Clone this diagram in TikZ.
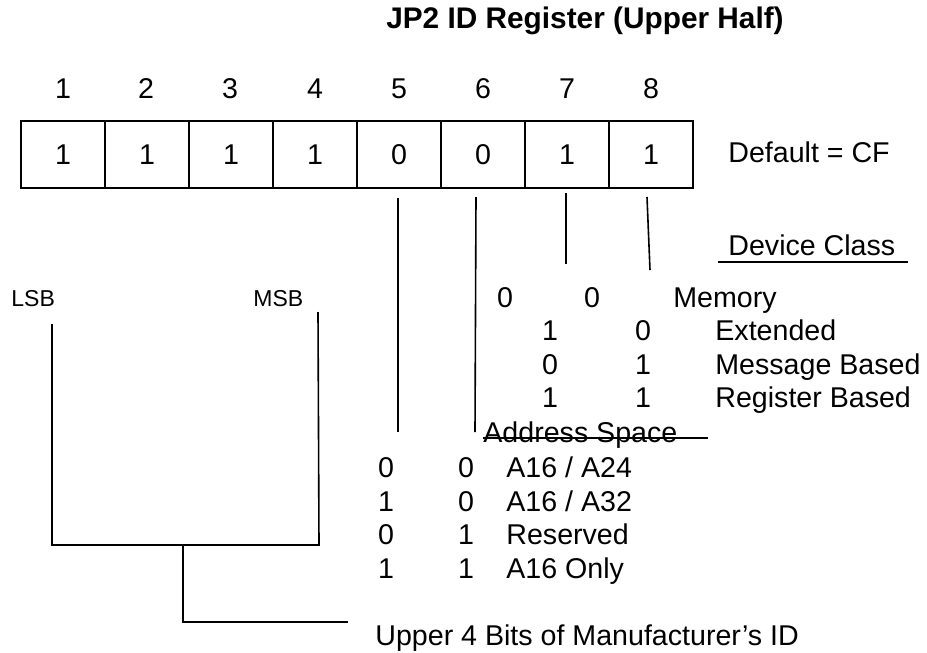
\documentclass[tikz,border=0pt]{standalone}
\usepackage{fontspec}
\setmainfont{Liberation Sans}
\usetikzlibrary{positioning}
\tikzset{
  txt/.style={font=\fontsize{14.3}{17}\selectfont,inner sep=0pt},
  smalltxt/.style={font=\fontsize{11.5}{14}\selectfont,inner sep=0pt},
  cell/.style={txt,draw,line width=1pt,minimum width=42pt,minimum height=33.5pt},
  wire/.style={line width=0.8pt}
}
\begin{document}
\begin{tikzpicture}[x=0.5pt,y=-0.5pt]
\useasboundingbox (0,0) rectangle (927,653);
% title
\node[txt,font=\fontsize{14.9}{18}\selectfont\bfseries,anchor=base] (title) at (585,28) {JP2 ID Register (Upper Half)};
% bit numbers
\node[txt,anchor=base] (n1) at (63,98) {1};
\node[txt,anchor=base] (n2) at (146,98) {2};
\node[txt,anchor=base] (n3) at (230,98) {3};
\node[txt,anchor=base] (n4) at (315,98) {4};
\node[txt,anchor=base] (n5) at (399,98) {5};
\node[txt,anchor=base] (n6) at (483,98) {6};
\node[txt,anchor=base] (n7) at (567,98) {7};
\node[txt,anchor=base] (n8) at (651,98) {8};
% register cells
\node[cell] (c1) at (63,154.5) {1};
\node[cell] (c2) at (147,154.5) {1};
\node[cell] (c3) at (231,154.5) {1};
\node[cell] (c4) at (315,154.5) {1};
\node[cell] (c5) at (399,154.5) {0};
\node[cell] (c6) at (483,154.5) {0};
\node[cell] (c7) at (567,154.5) {1};
\node[cell] (c8) at (651,154.5) {1};
\node[txt,anchor=base west] (dflt) at (728,162) {Default = CF};
% device class
\node[txt,anchor=base west] (dev) at (728,255) {Device Class};
\coordinate (devl) at (718,262);
\coordinate (devr) at (908,262);
\draw[wire] (devl) -- (devr);
\node[txt,anchor=base] (d10) at (505,307) {0};
\node[txt,anchor=base] (d20) at (592,307) {0};
\node[txt,anchor=base west] (m0) at (673,307) {Memory};
\node[txt,anchor=base] (d11) at (550,340) {1};
\node[txt,anchor=base] (d21) at (643,340) {0};
\node[txt,anchor=base west] (m1) at (715,340) {Extended};
\node[txt,anchor=base] (d12) at (550,374) {0};
\node[txt,anchor=base] (d22) at (643,374) {1};
\node[txt,anchor=base west] (m2) at (715,374) {Message Based};
\node[txt,anchor=base] (d13) at (550,407) {1};
\node[txt,anchor=base] (d23) at (643,407) {1};
\node[txt,anchor=base west] (m3) at (715,407) {Register Based};
% address space
\node[txt,anchor=base west] (adr) at (483,442) {Address Space};
\coordinate (adrl) at (483,438);
\coordinate (adrr) at (708,438);
\draw[wire] (adrl) -- (adrr);
\node[txt,anchor=base] (a10) at (386,477) {0};
\node[txt,anchor=base] (a20) at (466,477) {0};
\node[txt,anchor=base west] (s0) at (506,477) {A16 / A24};
\node[txt,anchor=base] (a11) at (386,511) {1};
\node[txt,anchor=base] (a21) at (466,511) {0};
\node[txt,anchor=base west] (s1) at (506,511) {A16 / A32};
\node[txt,anchor=base] (a12) at (386,544) {0};
\node[txt,anchor=base] (a22) at (466,544) {1};
\node[txt,anchor=base west] (s2) at (506,544) {Reserved};
\node[txt,anchor=base] (a13) at (386,578) {1};
\node[txt,anchor=base] (a23) at (466,578) {1};
\node[txt,anchor=base west] (s3) at (506,578) {A16 Only};
% bit lines
\coordinate (b5t) at (398,198);
\coordinate (b5b) at (398,432);
\coordinate (b6t) at (476,197);
\coordinate (b6b) at (475,432);
\coordinate (b7t) at (566,193);
\coordinate (b7b) at (566,264);
\coordinate (b8t) at (647,197);
\coordinate (b8b) at (650,270);
\draw[wire] (b5t) -- (b5b);
\draw[wire] (b6t) -- (b6b);
\draw[wire] (b7t) -- (b7b);
\draw[wire] (b8t) -- (b8b);
% manufacturer id bracket
\node[smalltxt,anchor=base west] (lsb) at (11,306) {LSB};
\node[smalltxt,anchor=base west] (msb) at (253,306) {MSB};
\coordinate (lsbt) at (52,324);
\coordinate (lsbb) at (52,545);
\coordinate (msbt) at (318,312);
\coordinate (msbb) at (319,545);
\coordinate (stem) at (183,545);
\coordinate (knee) at (183,622);
\coordinate (tip) at (348,622);
\draw[wire] (lsbt) -- (lsbb) -- (msbb) -- (msbt);
\draw[wire] (stem) -- (knee) -- (tip);
\node[txt,anchor=base west] (manu) at (375,645) {Upper 4 Bits of Manufacturer’s ID};
\end{tikzpicture}
\end{document}
